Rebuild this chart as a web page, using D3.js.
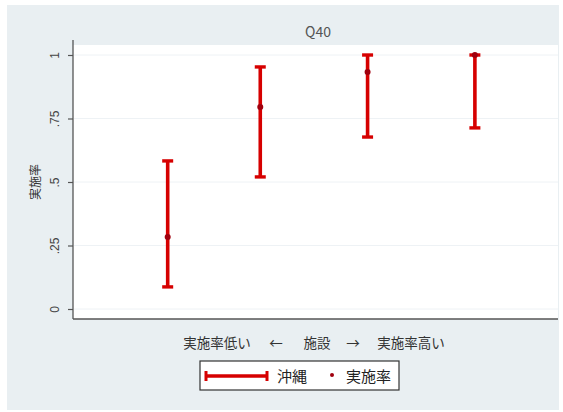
<!DOCTYPE html>
<html>
<head>
<meta charset="utf-8">
<script src="https://cdn.jsdelivr.net/npm/d3@7/dist/d3.min.js"></script>
<style>
  html,body{margin:0;padding:0;background:#fff;}
  svg{display:block;font-family:"Noto Sans CJK JP","Noto Sans",sans-serif;}
</style>
</head>
<body>
<svg id="chart" width="563" height="412" viewBox="0 0 563 412"></svg>
<script>
// facility position (rank order) and interval values
const facilityX = [1, 1.88, 2.9, 3.92];
const rateVals  = [0.283, 0.795, 0.933, 1.0];
const lowerVals = [0.087, 0.52, 0.677, 0.713];
const upperVals = [0.583, 0.953, 1.0, 1.0];
const yTicks = [0, 0.25, 0.5, 0.75, 1];
const yTickLabels = ['0', '.25', '.5', '.75', '1'];
const chartTitle = 'Q40';
const yTitle = '実施率';
const xTitleParts = ['実施率低い', '←', '施設', '→', '実施率高い'];
const legendLabels = ['沖縄', '実施率'];

(function(){
  const svg = d3.select('#chart');
  const plot = { left:73, right:558, top:45, bottom:319 };
  const red = '#d60000', darkRed = '#a0000e';

  // outer graph region
  svg.append('rect').attr('x',7).attr('y',5).attr('width',552).attr('height',405).attr('fill','#e9eff2');
  svg.append('rect').attr('x',plot.left).attr('y',plot.top)
    .attr('width',plot.right-plot.left).attr('height',plot.bottom-plot.top).attr('fill','#fff');

  const x = d3.scaleLinear().domain([0.1, 4.71]).range([plot.left, plot.right]);
  const y = d3.scaleLinear().domain([0, 1]).range([309, 55]);

  // faint grid
  svg.append('g').selectAll('line').data(yTicks).enter().append('line')
    .attr('x1',plot.left+1).attr('x2',plot.right)
    .attr('y1',d=>y(d)).attr('y2',d=>y(d))
    .attr('stroke','#eef2f5').attr('stroke-width',1);

  // y axis
  const yAxis = d3.axisLeft(y).tickValues(yTicks).tickSize(5).tickPadding(6)
    .tickFormat((d,i)=>yTickLabels[i]);
  const gy = svg.append('g').attr('transform',`translate(${plot.left},0)`).call(yAxis);
  gy.select('.domain').attr('d',`M0,${plot.top-5}V${plot.bottom}`).attr('stroke','#555').attr('stroke-width',1.3);
  gy.selectAll('.tick line').attr('stroke','#555').attr('stroke-width',1.2);
  gy.selectAll('.tick text')
    .attr('transform','rotate(-90)')
    .attr('x',0).attr('y',-14).attr('dy',0)
    .attr('text-anchor','middle')
    .attr('font-size','12px').attr('fill','#444');

  // x axis line (no ticks)
  svg.append('line').attr('x1',plot.left).attr('x2',plot.right)
    .attr('y1',plot.bottom).attr('y2',plot.bottom)
    .attr('stroke','#555').attr('stroke-width',1.3);

  // title & axis titles
  svg.append('text').attr('x',318).attr('y',37).attr('text-anchor','middle')
    .attr('font-size','14px').attr('fill','#555').text(chartTitle);
  svg.append('text').attr('transform','translate(40,182) rotate(-90)').attr('text-anchor','middle')
    .attr('font-size','12px').attr('fill','#333').text(yTitle);
  const partX = [217, 276, 317, 353, 411];
  svg.append('g').selectAll('text').data(xTitleParts).enter().append('text')
    .attr('x',(d,i)=>partX[i]).attr('y',348).attr('text-anchor','middle')
    .attr('font-size','13.5px').attr('fill','#333').text(d=>d);

  // error bars
  const data = facilityX.map((fx,i)=>({x:fx, rate:rateVals[i], lo:lowerVals[i], hi:upperVals[i]}));
  const cap = 5.5;
  const g = svg.append('g');
  const bar = g.selectAll('g').data(data).enter().append('g');
  bar.append('line').attr('x1',d=>x(d.x)).attr('x2',d=>x(d.x))
    .attr('y1',d=>y(d.lo)).attr('y2',d=>y(d.hi))
    .attr('stroke',red).attr('stroke-width',3.6);
  ['lo','hi'].forEach(k=>{
    bar.append('line').attr('x1',d=>x(d.x)-cap).attr('x2',d=>x(d.x)+cap)
      .attr('y1',d=>y(d[k])).attr('y2',d=>y(d[k]))
      .attr('stroke',red).attr('stroke-width',3.4);
  });
  bar.append('circle').attr('cx',d=>x(d.x)).attr('cy',d=>y(d.rate)).attr('r',3)
    .attr('fill',darkRed);

  // legend
  const lg = svg.append('g').attr('transform','translate(200,361)');
  lg.append('rect').attr('width',199).attr('height',29).attr('fill','#fff')
    .attr('stroke','#333').attr('stroke-width',1.2);
  lg.append('line').attr('x1',6).attr('x2',67).attr('y1',15).attr('y2',15)
    .attr('stroke',red).attr('stroke-width',3.6);
  [6,67].forEach(cx=>lg.append('line').attr('x1',cx).attr('x2',cx).attr('y1',10).attr('y2',20)
    .attr('stroke',red).attr('stroke-width',3));
  lg.append('text').attr('x',77).attr('y',21).attr('font-size','15px').attr('fill','#222').text(legendLabels[0]);
  lg.append('circle').attr('cx',132).attr('cy',14).attr('r',2).attr('fill',darkRed);
  lg.append('text').attr('x',146).attr('y',21).attr('font-size','15px').attr('fill','#222').text(legendLabels[1]);
})();
</script>
</body>
</html>
